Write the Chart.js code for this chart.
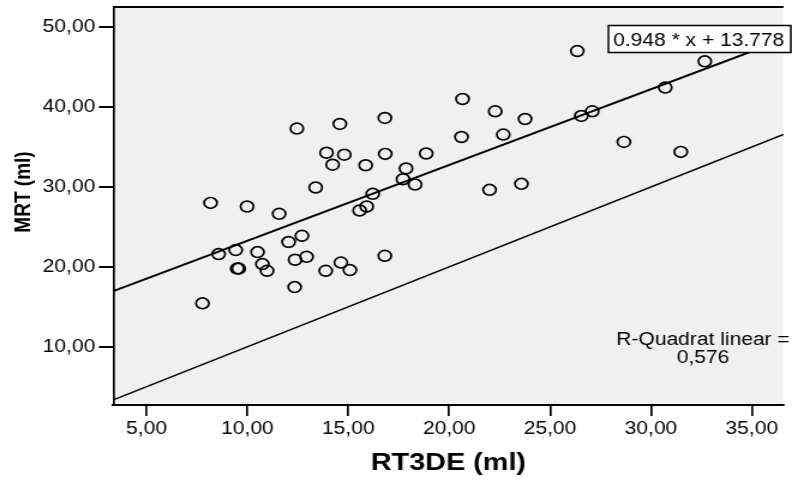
<!DOCTYPE html>
<html><head><meta charset="utf-8">
<script src="https://cdn.jsdelivr.net/npm/chart.js@4.4.1/dist/chart.umd.min.js"></script>
<style>html,body{margin:0;padding:0;background:#fff;overflow:hidden}canvas{display:block}</style>
</head><body>
<canvas id="c" width="660" height="482" style="width:792px;height:482px"></canvas>
<script>
// ---- data ----
const rtde = [7.77, 8.17, 8.57, 9.42, 9.49, 9.57, 9.98, 10.50, 10.74, 10.97,
  11.57, 12.04, 12.36, 12.45, 12.34, 12.70, 12.93, 13.38, 13.88, 13.92,
  14.22, 14.58, 14.63, 14.80, 15.08, 15.56, 15.86, 15.91, 16.21, 16.81,
  16.83, 16.81, 17.71, 17.86, 18.31, 18.86, 20.66, 20.61, 22.00, 22.28,
  22.68, 23.58, 23.76, 26.35, 26.55, 27.09, 28.66, 30.71, 31.48, 32.67];
const mrt = [15.43, 28.00, 21.59, 22.09, 19.78, 19.78, 27.55, 21.84, 20.34, 19.50,
  26.63, 23.11, 20.88, 37.30, 17.46, 23.88, 21.25, 29.93, 19.50, 34.28,
  32.78, 37.88, 20.53, 34.03, 19.59, 27.05, 32.71, 27.55, 29.13, 38.63,
  34.13, 21.38, 30.96, 32.30, 30.30, 34.18, 41.00, 36.25, 29.63, 39.46,
  36.55, 30.38, 38.50, 47.00, 38.88, 39.46, 35.63, 42.43, 34.38, 45.71];
const xTicks = [5, 10, 15, 20, 25, 30, 35];
const yTicks = [10, 20, 30, 40, 50];
const xRange = [3.35, 36.57];
const yRange = [2.71, 52.5];
const fitX = [3.35, 36.57];
const fitY = [16.954, 48.446];
const refX = [3.35, 36.57];
const refY = [3.35, 36.57];
const fitLabel = '0.948 * x + 13.778';
const r2Lines = ['R-Quadrat linear =', '0,576'];
const xTitle = 'RT3DE (ml)';
const yTitle = 'MRT (ml)';

const FONT = '"Liberation Sans", Arial, Helvetica, sans-serif';
Chart.defaults.font.family = FONT;
const fmt = v => Number(v).toFixed(2).replace('.', ',');

const deco = {
  id: 'deco',
  beforeDraw(chart) {
    const {ctx, chartArea: a} = chart;
    ctx.save();
    ctx.fillStyle = '#fff';
    ctx.fillRect(0, 0, chart.width, chart.height);
    ctx.fillStyle = '#f0f0f0';
    ctx.fillRect(a.left, a.top, a.right - a.left, a.bottom - a.top);
    ctx.restore();
  },
  afterDraw(chart) {
    const {ctx, chartArea: a} = chart;
    ctx.save();
    ctx.strokeStyle = '#000';
    ctx.lineWidth = 2;
    ctx.beginPath();
    ctx.moveTo(a.left, a.top);
    ctx.lineTo(a.right, a.top);
    ctx.stroke();
    ctx.fillStyle = '#fff';
    ctx.fillRect(507, 25.5, 152, 27);
    ctx.lineWidth = 1.5;
    ctx.strokeRect(507, 25.5, 152, 27);
    ctx.fillStyle = '#000';
    ctx.font = '17.5px ' + FONT;
    ctx.textAlign = 'left';
    ctx.textBaseline = 'alphabetic';
    ctx.fillText(fitLabel, 511, 45.7);
    ctx.textAlign = 'center';
    ctx.fillText(r2Lines[0], 585.8, 345);
    ctx.fillText(r2Lines[1], 585.8, 363);
    ctx.translate(20, 192);
    ctx.rotate(-Math.PI / 2);
    ctx.font = 'bold 19px ' + FONT;
    ctx.textBaseline = 'middle';
    ctx.fillText(yTitle, 0, 0);
    ctx.restore();
  }
};

new Chart(document.getElementById('c'), {
  type: 'scatter',
  data: {
    datasets: [
      {
        data: rtde.map((x, i) => ({x, y: mrt[i]})),
        pointStyle: 'circle',
        pointRadius: 5.4,
        pointBorderWidth: 1.7,
        pointBorderColor: '#000',
        pointBackgroundColor: 'rgba(0,0,0,0)',
        showLine: false
      },
      {
        data: fitX.map((x, i) => ({x, y: fitY[i]})),
        showLine: true, pointRadius: 0, borderColor: '#000', borderWidth: 2
      },
      {
        data: refX.map((x, i) => ({x, y: refY[i]})),
        showLine: true, pointRadius: 0, borderColor: '#000', borderWidth: 1.5
      }
    ]
  },
  options: {
    responsive: false,
    animation: false,
    events: [],
    layout: {padding: {top: 7, right: 0, bottom: 0, left: 0}},
    plugins: {legend: {display: false}, tooltip: {enabled: false}},
    scales: {
      x: {
        type: 'linear', position: 'bottom', min: xRange[0], max: xRange[1],
        afterBuildTicks: s => { s.ticks = xTicks.map(v => ({value: v})); },
        afterFit: s => { s.height = 77; s.paddingLeft = 0; s.paddingRight = 0; },
        ticks: {callback: v => fmt(v), color: '#000', font: {size: 17.5}, padding: 3, maxRotation: 0, autoSkip: false},
        grid: {drawOnChartArea: false, drawTicks: true, tickLength: 11, color: '#000', lineWidth: 1.7},
        border: {display: true, color: '#000', width: 2},
        title: {display: true, text: xTitle, color: '#000', font: {size: 24, weight: 'bold'}, padding: {top: 0, bottom: 4.6}}
      },
      y: {
        type: 'linear', position: 'left', min: yRange[0], max: yRange[1],
        afterBuildTicks: s => { s.ticks = yTicks.map(v => ({value: v})); },
        afterFit: s => { s.width = 94.4; s.paddingTop = 0; s.paddingBottom = 0; },
        ticks: {callback: v => fmt(v), color: '#000', font: {size: 17.5}, padding: 3, autoSkip: false},
        grid: {drawOnChartArea: false, drawTicks: true, tickLength: 12, color: '#000', lineWidth: 2},
        border: {display: true, color: '#000', width: 1.7}
      }
    }
  },
  plugins: [deco]
});
</script>
</body></html>
